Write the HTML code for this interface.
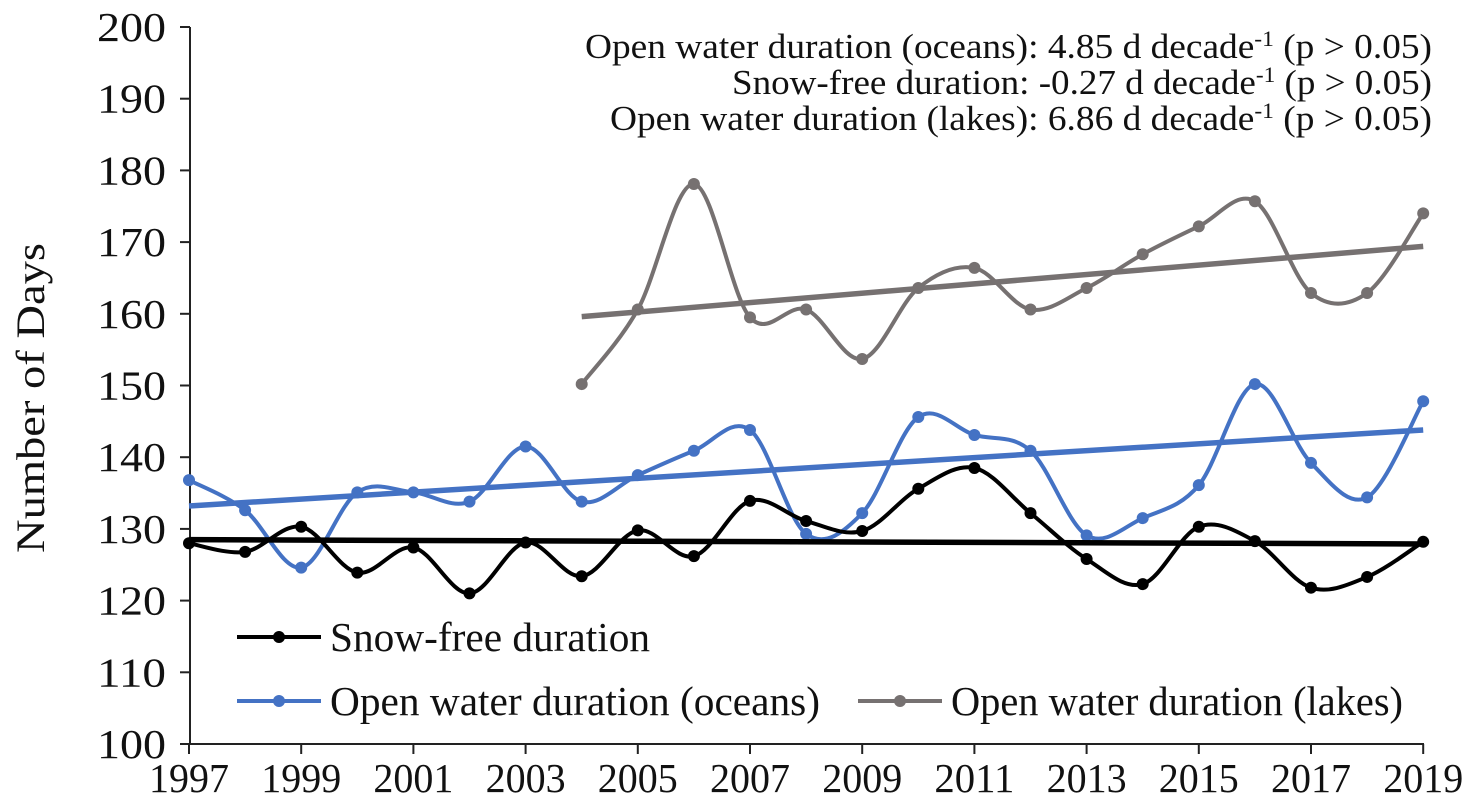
<!DOCTYPE html>
<html><head><meta charset="utf-8"><style>
html,body{margin:0;padding:0;background:#fff;}
svg{display:block;font-family:"Liberation Serif",serif;}
</style></head><body>
<svg id="chart" width="1470" height="809"></svg>
<script>
const years=[1997,1998,1999,2000,2001,2002,2003,2004,2005,2006,2007,2008,2009,2010,2011,2012,2013,2014,2015,2016,2017,2018,2019];
const snowFree=[128.0,126.8,130.3,123.9,127.4,121.0,128.1,123.4,129.8,126.2,133.9,131.1,129.7,135.6,138.5,132.2,125.8,122.3,130.3,128.3,121.8,123.3,128.2];
const oceans=[136.8,132.6,124.6,135.1,135.1,133.8,141.5,133.8,137.5,140.9,143.8,129.3,132.2,145.6,143.1,140.9,129.1,131.5,136.1,150.2,139.2,134.4,147.8];
const lakeYears=[2004,2005,2006,2007,2008,2009,2010,2011,2012,2013,2014,2015,2016,2017,2018,2019];
const lakes=[150.2,160.6,178.1,159.5,160.6,153.7,163.6,166.4,160.6,163.6,168.3,172.2,175.7,162.9,162.9,174.0];
const snowTrend=[128.5,127.9];
const oceansTrend=[133.2,143.8];
const lakesTrend=[159.6,169.4];
const yTicks=[100,110,120,130,140,150,160,170,180,190,200];
const xTicks=[1997,1999,2001,2003,2005,2007,2009,2011,2013,2015,2017,2019];

const NS='http://www.w3.org/2000/svg';
const svg=document.getElementById('chart');
const X=y=>189+(y-1997)*56.1;
const Y=v=>744-(v-100)*7.17;
function mk(t,a){const e=document.createElementNS(NS,t);for(const k in a)e.setAttribute(k,a[k]);svg.appendChild(e);return e;}
let ax=mk('line',{x1:190,y1:27,x2:190,y2:744,stroke:'#222','stroke-width':2});


let bx=mk('line',{x1:190,y1:744,x2:1424,y2:744,stroke:'#222','stroke-width':2});


yTicks.forEach(v=>{
  mk('line',{x1:180,y1:Y(v),x2:190,y2:Y(v),stroke:'#222','stroke-width':2});
  const t=mk('text',{x:166,y:Y(v)+14,'text-anchor':'end','font-size':41,fill:'#111',textLength:69,lengthAdjust:'spacingAndGlyphs'});
  t.textContent=v;
  
  
});
xTicks.forEach(v=>{
  mk('line',{x1:X(v),y1:744,x2:X(v),y2:754,stroke:'#222','stroke-width':2});
  const t=mk('text',{x:X(v),y:792,'text-anchor':'middle','font-size':41,fill:'#111',textLength:80,lengthAdjust:'spacingAndGlyphs'});
  t.textContent=v;
  
  
});
const yt=mk('text',{x:0,y:0,'text-anchor':'middle','font-size':40,fill:'#111',transform:'translate(44,398) rotate(-90)',textLength:310,lengthAdjust:'spacingAndGlyphs'});
yt.textContent='Number of Days';



function smooth(pts){
  let d='M'+pts[0][0]+','+pts[0][1];
  for(let i=0;i<pts.length-1;i++){
    const p0=pts[Math.max(i-1,0)],p1=pts[i],p2=pts[i+1],p3=pts[Math.min(i+2,pts.length-1)];
    const c1=[p1[0]+(p2[0]-p0[0])/6,p1[1]+(p2[1]-p0[1])/6];
    const c2=[p2[0]-(p3[0]-p1[0])/6,p2[1]-(p3[1]-p1[1])/6];
    d+=' C'+c1+' '+c2+' '+p2;
  }
  return d;
}
function series(xs,vals,trend,color,name){
  const pts=xs.map((x,i)=>[X(x),Y(vals[i])]);
  const p=mk('path',{d:smooth(pts),fill:'none',stroke:color,'stroke-width':4});
  
  
  pts.forEach(q=>{
    const c=mk('circle',{cx:q[0],cy:q[1],r:6,fill:color});
    
    
  });
  const x0=xs[0],x1=xs[xs.length-1];
  const t=mk('line',{x1:X(x0),y1:Y(trend[0]),x2:X(x1),y2:Y(trend[1]),stroke:color,'stroke-width':5.5});
  
  
}
series(lakeYears,lakes,lakesTrend,'#767171','lakes');
series(years,oceans,oceansTrend,'#4472c4','oceans');
series(years,snowFree,snowTrend,'#000000','snow-free');

function legend(x,y,color,label,name,w){
  mk('line',{x1:x,y1:y,x2:x+84,y2:y,stroke:color,'stroke-width':4});
  mk('circle',{cx:x+42,cy:y,r:6,fill:color});
  const t=mk('text',{x:x+93,y:y+14,'font-size':41,fill:'#111',textLength:w,lengthAdjust:'spacingAndGlyphs'});
  t.textContent=label;
  
  
}
legend(237,637,'#000','Snow-free duration','legend-snow-free',320);
legend(237,701,'#4472c4','Open water duration (oceans)','legend-oceans',490);
legend(858,701,'#767171','Open water duration (lakes)','legend-lakes',452);

const ann=[['Open water duration (oceans): 4.85 d decade','(p > 0.05)',58,585],['Snow-free duration: -0.27 d decade','(p > 0.05)',94,732],['Open water duration (lakes): 6.86 d decade','(p > 0.05)',130,610]];
ann.forEach((a,i)=>{
  const t=mk('text',{x:1432,y:a[2],'text-anchor':'end','font-size':35,fill:'#111'});
  
  
  const s1=document.createElementNS(NS,'tspan');s1.textContent=a[0];t.appendChild(s1);
  const s2=document.createElementNS(NS,'tspan');s2.setAttribute('dy','-12');s2.setAttribute('font-size','22');s2.textContent='-1';t.appendChild(s2);
  const s3=document.createElementNS(NS,'tspan');s3.setAttribute('dy','12');s3.textContent=' '+a[1];t.appendChild(s3);
  t.setAttribute('textLength',1432-a[3]);
  t.setAttribute('lengthAdjust','spacingAndGlyphs');
});
</script>
</body></html>
